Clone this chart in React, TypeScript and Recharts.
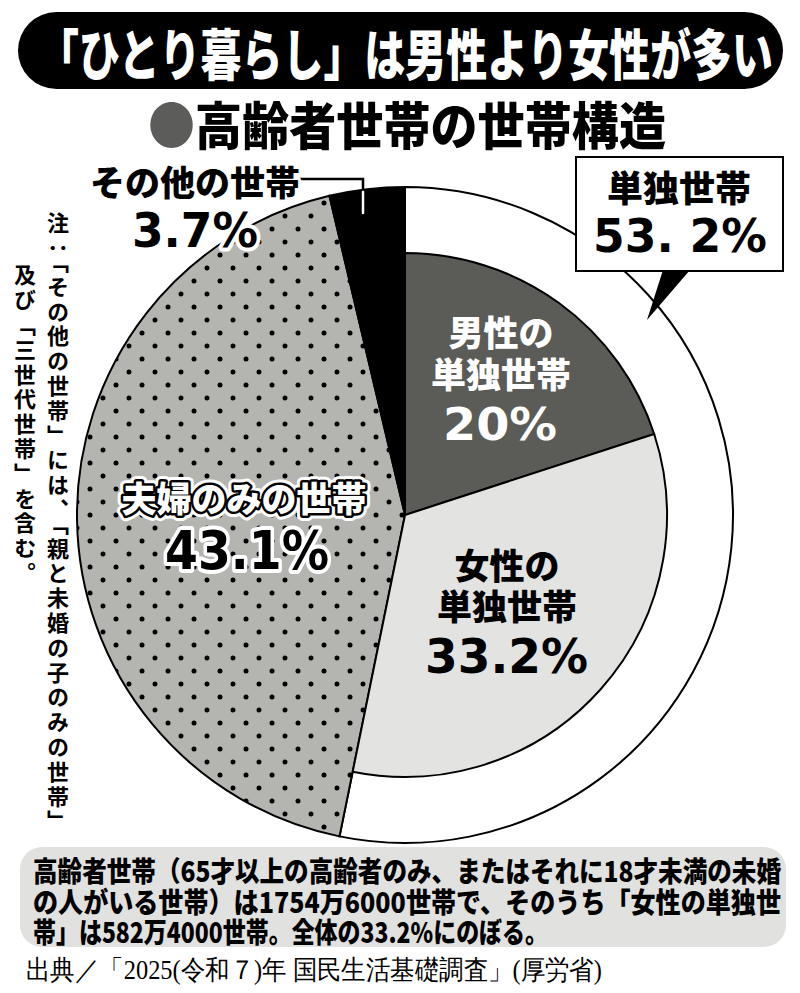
import React from 'react';
import { PieChart, Pie, Cell } from 'recharts';

// ---- data ----
const categories = ['男性の単独世帯', '女性の単独世帯', '夫婦のみの世帯', 'その他の世帯'];
const shares = [20, 33.2, 43.1, 3.7];
const percentLabels = ['20%', '33.2%', '43.1%', '3.7%'];
const groupNames = ['単独世帯', '夫婦のみの世帯', 'その他の世帯'];
const groupShares = [53.2, 43.1, 3.7];
const groupPercentLabel = '53. 2%';

const title = '「ひとり暮らし」は男性より女性が多い';
const subtitle = '高齢者世帯の世帯構造';
const noteCol1 = '注：「その他の世帯」には、「親と未婚の子のみの世帯」';
const noteCol2 = '及び「三世代世帯」を含む。';
const summaryLines = [
  '高齢者世帯（65才以上の高齢者のみ、またはそれに18才未満の未婚',
  'の人がいる世帯）は1754万6000世帯で、そのうち「女性の単独世',
  '帯」は582万4000世帯。全体の33.2%にのぼる。',
];
const sourceText = '出典／「2025(令和７)年 国民生活基礎調査」(厚労省)';

// ---- derived chart data ----
const outerData = groupNames.map((name, i) => ({ name, value: groupShares[i] }));
const innerData = [
  { name: categories[0], value: shares[0] },
  { name: categories[1], value: shares[1] },
  { name: 'rest', value: shares[2] + shares[3] },
];
const outerFills = ['#ffffff', 'url(#dots)', '#000000'];
const innerFills = ['#5b5b57', '#e3e3e1', 'none'];

const JP = '"Noto Sans CJK JP", "Noto Sans", sans-serif';
const NUM = '"DejaVu Sans", "Liberation Sans", sans-serif';

const CX = 405;
const CY = 515;
const R_OUT = 328;
const R_IN = 262;

export default function App() {
  return (
    <div style={{ position: 'absolute', left: 0, top: 0, width: 800, height: 993, background: '#fff', overflow: 'hidden' }}>
      <svg width={0} height={0} style={{ position: 'absolute' }}>
        <defs>
          <pattern id="dots" patternUnits="userSpaceOnUse" width={26} height={26}>
            <rect x={0} y={0} width={26} height={26} fill="#b4b4b0" />
            <circle cx={12} cy={21} r={2.5} fill="#000" />
            <circle cx={25} cy={8} r={2.5} fill="#000" />
            <circle cx={-1} cy={8} r={2.5} fill="#000" />
          </pattern>
        </defs>
      </svg>

      {/* background layer */}
      <svg width={800} height={993} style={{ position: 'absolute', left: 0, top: 0 }}>
        <rect x={18} y={12} width={765} height={77} rx={38.5} fill="#000" />
        <text x={38} y={75} fontFamily={JP} fontWeight={900} fontSize={55} fill="#fff" textLength={735} lengthAdjust="spacingAndGlyphs">{title}</text>
        <text x={148} y={145} fontFamily={JP} fontWeight={900} fontSize={51} fill="#000" textLength={518} lengthAdjust="spacingAndGlyphs">
          <tspan fill="#5c5c5a">●</tspan>{subtitle}
        </text>
        <rect x={20} y={847} width={766} height={100} rx={22} fill="#e1e1df" />
        {summaryLines.map((line, i) => (
          <text key={i} x={33} y={882 + i * 30.5} fontFamily={JP} fontWeight={900} fontSize={28} fill="#000"
            textLength={i < 2 ? 748 : 515} lengthAdjust="spacingAndGlyphs">{line}</text>
        ))}
        <text x={26} y={979} fontFamily={'"Liberation Serif", serif'} fontSize={27} fill="#000" textLength={576} lengthAdjust="spacingAndGlyphs">{sourceText}</text>
      </svg>

      <div style={{ position: 'absolute', left: 0, top: 0 }}>
        <PieChart width={800} height={993} margin={{ top: 0, right: 0, bottom: 0, left: 0 }}>
          <Pie data={outerData} dataKey="value" nameKey="name" cx={CX} cy={CY} innerRadius={0} outerRadius={R_OUT}
            startAngle={90} endAngle={-270} isAnimationActive={false} stroke="#000" strokeWidth={2}>
            {outerData.map((d, i) => (
              <Cell key={d.name} fill={outerFills[i]} stroke="#000" strokeWidth={2} />
            ))}
          </Pie>
          <Pie data={innerData} dataKey="value" nameKey="name" cx={CX} cy={CY} innerRadius={0} outerRadius={R_IN}
            startAngle={90} endAngle={-270} isAnimationActive={false}>
            {innerData.map((d, i) => (
              <Cell key={d.name} fill={innerFills[i]} stroke={i < 2 ? '#000' : 'none'} strokeWidth={i < 2 ? 2 : 0} />
            ))}
          </Pie>
        </PieChart>
      </div>

      {/* overlay layer */}
      <svg width={800} height={993} style={{ position: 'absolute', left: 0, top: 0, pointerEvents: 'none' }}>
        {/* callout for single households */}
        <rect x={576} y={157} width={207} height={114} fill="#fff" stroke="#000" strokeWidth={2} />
        <polygon points="663,270 690,270 647,320" fill="#000" />
        <text x={679} y={202} textAnchor="middle" fontFamily={JP} fontWeight={900} fontSize={36} fill="#000">{groupNames[0]}</text>
        <text x={593} y={252} fontFamily={NUM} fontWeight={700} fontSize={47} fill="#000" textLength={174} lengthAdjust="spacingAndGlyphs">{groupPercentLabel}</text>

        {/* male */}
        <text x={501} y={346} textAnchor="middle" fontFamily={JP} fontWeight={900} fontSize={35} fill="#fff">{categories[0].slice(0, 3)}</text>
        <text x={501} y={388} textAnchor="middle" fontFamily={JP} fontWeight={900} fontSize={35} fill="#fff">{categories[0].slice(3)}</text>
        <text x={443} y={440} fontFamily={NUM} fontWeight={700} fontSize={45} fill="#fff" textLength={114} lengthAdjust="spacingAndGlyphs">{percentLabels[0]}</text>

        {/* female */}
        <text x={507} y={579} textAnchor="middle" fontFamily={JP} fontWeight={900} fontSize={35} fill="#000">{categories[1].slice(0, 3)}</text>
        <text x={507} y={620} textAnchor="middle" fontFamily={JP} fontWeight={900} fontSize={35} fill="#000">{categories[1].slice(3)}</text>
        <text x={425} y={673} fontFamily={NUM} fontWeight={700} fontSize={48} fill="#000" textLength={163} lengthAdjust="spacingAndGlyphs">{percentLabels[1]}</text>

        {/* couples */}
        <text x={244} y={512} textAnchor="middle" fontFamily={JP} fontWeight={900} fontSize={35} fill="#fff" stroke="#fff" strokeWidth={11} strokeLinejoin="round">{categories[2]}</text>
        <text x={244} y={512} textAnchor="middle" fontFamily={JP} fontWeight={900} fontSize={35} fill="#fff" stroke="#000" strokeWidth={5} strokeLinejoin="round" style={{ paintOrder: 'stroke' }}>{categories[2]}</text>
        <text x={165} y={569} fontFamily={NUM} fontWeight={700} fontSize={54} fill="#000" stroke="#fff" strokeWidth={8} strokeLinejoin="round" style={{ paintOrder: 'stroke' }} textLength={164} lengthAdjust="spacingAndGlyphs">{percentLabels[2]}</text>

        {/* others */}
        <path d="M300,179 H363 V213" fill="none" stroke="#000" strokeWidth={2.5} strokeLinecap="round" />
        <path d="M363,192 V213" fill="none" stroke="#fff" strokeWidth={2.5} strokeLinecap="round" />
        <text x={195} y={196} textAnchor="middle" fontFamily={JP} fontWeight={900} fontSize={35} fill="#000" stroke="#fff" strokeWidth={6} strokeLinejoin="round" style={{ paintOrder: 'stroke' }}>{categories[3]}</text>
        <text x={132} y={247} fontFamily={NUM} fontWeight={700} fontSize={48} fill="#000" stroke="#fff" strokeWidth={8} strokeLinejoin="round" style={{ paintOrder: 'stroke' }} textLength={126} lengthAdjust="spacingAndGlyphs">{percentLabels[3]}</text>
      </svg>

      {/* vertical note */}
      <div style={{ position: 'absolute', left: 47, top: 212, writingMode: 'vertical-rl', fontFamily: JP, fontWeight: 700, fontSize: 22, letterSpacing: 2.8, lineHeight: 1, whiteSpace: 'nowrap', color: '#000' }}>{noteCol1}</div>
      <div style={{ position: 'absolute', left: 14, top: 264, writingMode: 'vertical-rl', fontFamily: JP, fontWeight: 700, fontSize: 22, letterSpacing: 2.8, lineHeight: 1, whiteSpace: 'nowrap', color: '#000' }}>{noteCol2}</div>
    </div>
  );
}
